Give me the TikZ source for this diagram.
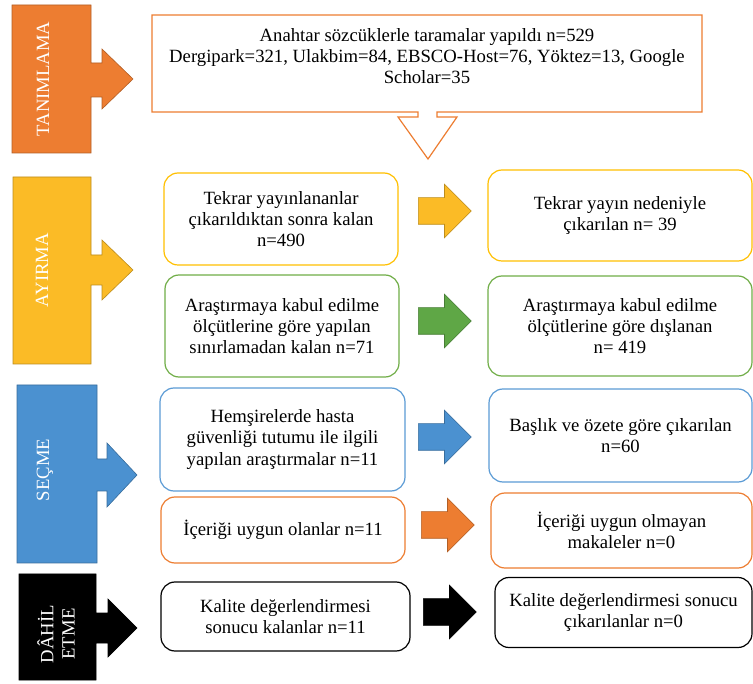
\documentclass[tikz,border=0pt]{standalone}
\usepackage{fontspec}
\setmainfont{Liberation Serif}
\usetikzlibrary{shapes.arrows}

\definecolor{turuncu}{HTML}{ED7D31}
\definecolor{sari}{HTML}{FBBB26}
\definecolor{sarikutu}{HTML}{FFC000}
\definecolor{yesil}{HTML}{5FA746}
\definecolor{yesilkutu}{HTML}{70AD47}
\definecolor{mavi}{HTML}{4B91D0}
\definecolor{mavikutu}{HTML}{5B9BD5}

\newcommand{\metin}{\fontsize{18.7}{21.3}\selectfont}

\tikzset{
	kutu/.style={draw=#1, fill=white, rounded corners=14pt, line width=1.2pt, align=center, inner sep=0pt, font=\metin},
	blokok/.style={single arrow, draw=#1!75!black, fill=#1, line width=0.6pt, minimum height=53pt, inner xsep=0pt, inner ysep=13pt, single arrow head extend=13.5pt, single arrow tip angle=90, anchor=tail},
	evre/.style={draw=#1!75!black, fill=#1, line width=0.6pt},
	evreyazi/.style={text=white, font=\metin, rotate=90, inner sep=0pt}
}

\begin{document}
\begin{tikzpicture}[x=1pt, y=-1pt]
	\useasboundingbox (0, 0) rectangle (753, 684);
	% evreler
	\draw[evre=turuncu] (12, 5) -- (91, 5) -- (91, 63) -- (102, 63) -- (102, 49) -- (133, 79) -- (102, 109) -- (102, 97) -- (91, 97) -- (91, 153) -- (12, 153) -- cycle;
	\draw[evre=sari] (13, 177) -- (91, 177) -- (91, 255) -- (102, 255) -- (102, 240) -- (133, 270) -- (102, 300) -- (102, 285) -- (91, 285) -- (91, 364) -- (13, 364) -- cycle;
	\draw[evre=mavi] (17, 385) -- (97, 385) -- (97, 459) -- (107, 459) -- (107, 443) -- (137, 475) -- (107, 507) -- (107, 491) -- (97, 491) -- (97, 563) -- (17, 563) -- cycle;
	\draw[evre=black] (19, 574) -- (96, 574) -- (96, 613) -- (108, 613) -- (108, 599) -- (137, 628) -- (108, 657) -- (108, 643) -- (96, 643) -- (96, 680) -- (19, 680) -- cycle;
	\node[evreyazi] (tanimlama) at (43, 79) {TANIMLAMA};
	\node[evreyazi] (ayirma) at (42, 270) {AYIRMA};
	\node[evreyazi] (secme) at (45, 470) {SEÇME};
	\node[evreyazi, align=center] (dahil) at (56, 634) {DÂHİL\\ETME};
	% tarama kutusu
	\draw[turuncu, fill=white, line width=1.2pt] (152, 15) -- (702, 15) -- (702, 112) -- (437, 112) -- (437, 117) -- (457, 117) -- (428, 159) -- (398, 117) -- (418, 117) -- (418, 112) -- (152, 112) -- cycle;
	\node[font=\metin, align=center] (tarama) at (427, 56) {Anahtar sözcüklerle taramalar yapıldı n=529\\Dergipark=321, Ulakbim=84, EBSCO-Host=76, Yöktez=13, Google\\Scholar=35};
	% sol kutular
	\node[kutu=sarikutu, minimum width=234pt, minimum height=92pt] (tekrar) at (281, 219) {Tekrar yayınlananlar\\çıkarıldıktan sonra kalan\\n=490};
	\node[kutu=yesilkutu, minimum width=234pt, minimum height=102pt] (kabul) at (282, 326) {Araştırmaya kabul edilme\\ölçütlerine göre yapılan\\sınırlamadan kalan n=71};
	\node[kutu=mavikutu, minimum width=245pt, minimum height=103pt] (hemsire) at (282.5, 439.5) {Hemşirelerde hasta\\güvenliği tutumu ile ilgili\\yapılan araştırmalar n=11};
	\node[kutu=turuncu, minimum width=244pt, minimum height=66pt] (uygun) at (283, 530) {İçeriği uygun olanlar n=11};
	\node[kutu=black, minimum width=249pt, minimum height=69pt] (kalite) at (285.5, 616.5) {Kalite değerlendirmesi\\sonucu kalanlar n=11};
	% sag kutular
	\node[kutu=sarikutu, minimum width=264pt, minimum height=91pt] (tekrarout) at (620, 215.5) {Tekrar yayın nedeniyle\\çıkarılan n= 39};
	\node[kutu=yesilkutu, minimum width=264pt, minimum height=100pt] (kabulout) at (620, 326) {Araştırmaya kabul edilme\\ölçütlerine göre dışlanan\\n= 419};
	\node[kutu=mavikutu, minimum width=263pt, minimum height=93pt] (hemsireout) at (620.5, 435.5) {Başlık ve özete göre çıkarılan\\n=60};
	\node[kutu=turuncu, minimum width=261pt, minimum height=75pt] (uygunout) at (621.5, 530.5) {İçeriği uygun olmayan\\makaleler n=0};
	\node[kutu=black, minimum width=257pt, minimum height=70pt] (kaliteout) at (623.5, 612.5) {Kalite değerlendirmesi sonucu\\çıkarılanlar n=0};
	% oklar
	\node[blokok=sari] (ok1) at (418, 211) {};
	\node[blokok=yesil] (ok2) at (418, 321) {};
	\node[blokok=mavi] (ok3) at (418, 437) {};
	\node[blokok=turuncu] (ok4) at (421, 525) {};
	\node[blokok=black] (ok5) at (423, 612) {};
\end{tikzpicture}
\end{document}
